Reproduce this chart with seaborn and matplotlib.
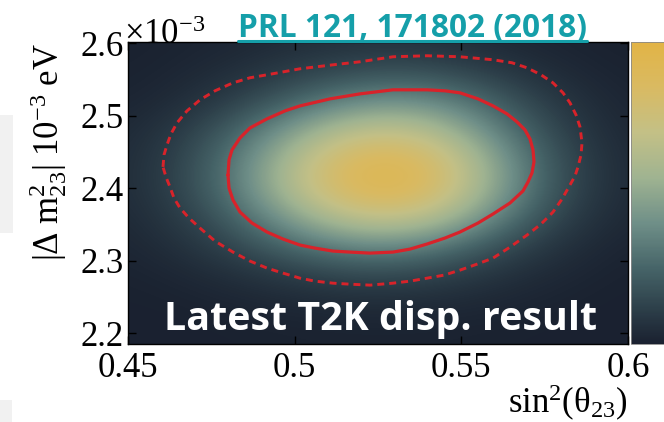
import numpy as np
import pandas as pd
import matplotlib
matplotlib.use("Agg")
import matplotlib.pyplot as plt
import seaborn as sns
from matplotlib.colors import LinearSegmentedColormap
from matplotlib.patches import Rectangle
from matplotlib.lines import Line2D

# ---------------- data ----------------
x_nodes = [0.450, 0.465, 0.480, 0.495, 0.510, 0.525, 0.540, 0.555, 0.570, 0.585, 0.600]
y_nodes = [2.20, 2.24, 2.28, 2.32, 2.36, 2.40, 2.44, 2.48, 2.52, 2.56, 2.60]
likelihood = [
    [0.000, 0.001, 0.003, 0.005, 0.007, 0.008, 0.007, 0.005, 0.003, 0.001, 0.000],
    [0.002, 0.005, 0.013, 0.023, 0.034, 0.040, 0.036, 0.025, 0.013, 0.005, 0.001],
    [0.008, 0.022, 0.050, 0.090, 0.130, 0.146, 0.128, 0.085, 0.043, 0.017, 0.004],
    [0.020, 0.058, 0.132, 0.238, 0.338, 0.383, 0.340, 0.228, 0.115, 0.044, 0.012],
    [0.034, 0.098, 0.227, 0.420, 0.617, 0.722, 0.662, 0.456, 0.236, 0.091, 0.027],
    [0.046, 0.132, 0.305, 0.564, 0.830, 0.971, 0.890, 0.613, 0.317, 0.123, 0.036],
    [0.045, 0.128, 0.298, 0.550, 0.808, 0.946, 0.867, 0.597, 0.309, 0.120, 0.035],
    [0.034, 0.096, 0.223, 0.412, 0.606, 0.709, 0.650, 0.448, 0.232, 0.090, 0.026],
    [0.015, 0.045, 0.110, 0.215, 0.335, 0.410, 0.395, 0.285, 0.150, 0.058, 0.016],
    [0.007, 0.020, 0.050, 0.097, 0.150, 0.185, 0.180, 0.130, 0.068, 0.026, 0.008],
    [0.003, 0.009, 0.020, 0.038, 0.055, 0.065, 0.059, 0.041, 0.021, 0.008, 0.002],
]

# 68% (solid) contour
solid_x = [0.4800, 0.4803, 0.4812, 0.4836, 0.4866, 0.4917, 0.4971, 0.5016, 0.5106,
           0.5196, 0.5295, 0.5397, 0.5451, 0.5496, 0.5550, 0.5595, 0.5637, 0.5667,
           0.5691, 0.5706, 0.5715, 0.5718, 0.5712, 0.5700, 0.5685, 0.5646, 0.5595,
           0.5550, 0.5496, 0.5451, 0.5397, 0.5346, 0.5295, 0.5226, 0.5166, 0.5115,
           0.5061, 0.5016, 0.4965, 0.4917, 0.4872, 0.4836, 0.4815, 0.4803]
solid_y = [2.4184, 2.4391, 2.4530, 2.4696, 2.4834, 2.4959, 2.5069, 2.5138, 2.5235,
           2.5304, 2.5360, 2.5360, 2.5346, 2.5318, 2.5235, 2.5138, 2.5028, 2.4917,
           2.4806, 2.4682, 2.4530, 2.4364, 2.4212, 2.4087, 2.3963, 2.3797, 2.3645,
           2.3520, 2.3396, 2.3313, 2.3230, 2.3160, 2.3119, 2.3105, 2.3119, 2.3133,
           2.3174, 2.3216, 2.3299, 2.3396, 2.3520, 2.3672, 2.3838, 2.4004]

# 90% (dashed) contour
dashed_x = [0.4605, 0.4608, 0.4617, 0.4629, 0.4647, 0.4677, 0.4716, 0.4761, 0.4815,
            0.4866, 0.4917, 0.5016, 0.5115, 0.5196, 0.5295, 0.5397, 0.5496, 0.5595,
            0.5652, 0.5697, 0.5739, 0.5775, 0.5805, 0.5826, 0.5844, 0.5856, 0.5862,
            0.5859, 0.5850, 0.5841, 0.5826, 0.5802, 0.5775, 0.5739, 0.5697, 0.5646,
            0.5595, 0.5547, 0.5496, 0.5448, 0.5397, 0.5346, 0.5295, 0.5226, 0.5166,
            0.5115, 0.5061, 0.5016, 0.4965, 0.4917, 0.4866, 0.4815, 0.4761, 0.4716,
            0.4683, 0.4656, 0.4638, 0.4626, 0.4614]
dashed_y = [2.4295, 2.4461, 2.4599, 2.4751, 2.4903, 2.5069, 2.5221, 2.5346, 2.5456,
            2.5526, 2.5567, 2.5650, 2.5705, 2.5747, 2.5816, 2.5830, 2.5816, 2.5775,
            2.5733, 2.5664, 2.5567, 2.5456, 2.5318, 2.5180, 2.5014, 2.4848, 2.4627,
            2.4461, 2.4295, 2.4170, 2.4046, 2.3852, 2.3672, 2.3506, 2.3354, 2.3188,
            2.3036, 2.2953, 2.2870, 2.2801, 2.2759, 2.2718, 2.2690, 2.2663, 2.2676,
            2.2690, 2.2718, 2.2759, 2.2829, 2.2898, 2.2995, 2.3119, 2.3271, 2.3451,
            2.3589, 2.3728, 2.3866, 2.4018, 2.4156]

x_ticks = [0.45, 0.50, 0.55, 0.60]
x_tick_labels = ["0.45", "0.5", "0.55", "0.6"]
y_ticks = [2.2, 2.3, 2.4, 2.5, 2.6]
y_tick_labels = ["2.2", "2.3", "2.4", "2.5", "2.6"]
cbar_ticks = [0.1, 0.2, 0.3, 0.4, 0.5, 0.6, 0.7, 0.8, 0.9, 1.0]

title_text = "PRL 121, 171802 (2018)"
overlay_text = "Latest T2K disp. result"
x_label = r"$\mathrm{sin^{2}(\theta_{23})}$"
y_label = r"$\mathrm{|\Delta\ m^{2}_{23}|\ 10^{-3}\ eV}$"
exp_label = r"$\mathrm{\times 10^{-3}}$"

# ---------------- style ----------------
sns.set_theme(style="ticks")
plt.rcParams["font.family"] = ["Liberation Serif", "DejaVu Serif"]
plt.rcParams["mathtext.fontset"] = "custom"
plt.rcParams["mathtext.rm"] = "Liberation Serif"
plt.rcParams["mathtext.it"] = "Liberation Serif:italic"
plt.rcParams["mathtext.bf"] = "Liberation Serif:bold"

cmap = LinearSegmentedColormap.from_list(
    "t2k",
    [(0.00, "#1a2130"), (0.10, "#2a3b46"), (0.25, "#466468"), (0.40, "#6f8f88"),
     (0.55, "#9fb391"), (0.70, "#c3c086"), (0.85, "#d9ba62"), (1.00, "#e2b446")])

W, H = 664, 422
fig = plt.figure(figsize=(W / 100, H / 100), dpi=100)
fig.patch.set_facecolor("white")

def fx(px):
    return px / W

def fy(py):
    return 1 - py / H

# faint slide artefacts at the left edge
fig.patches.append(Rectangle((0, fy(233)), fx(13), (233 - 115) / H,
                             transform=fig.transFigure, facecolor="#f1f1f1",
                             edgecolor="none", zorder=-5))
fig.patches.append(Rectangle((0, 0), fx(12), (422 - 400) / H,
                             transform=fig.transFigure, facecolor="#f1f1f1",
                             edgecolor="none", zorder=-5))

ax = fig.add_axes([fx(128), fy(344), 500 / W, 302 / H])
dxn = x_nodes[1] - x_nodes[0]
dyn = y_nodes[1] - y_nodes[0]
im = ax.imshow(np.array(likelihood), origin="lower",
               extent=[x_nodes[0] - dxn / 2, x_nodes[-1] + dxn / 2,
                       y_nodes[0] - dyn / 2, y_nodes[-1] + dyn / 2],
               aspect="auto", cmap=cmap, vmin=0, vmax=1.02,
               interpolation="bicubic")

solid = pd.DataFrame({"x": solid_x + solid_x[:1], "y": solid_y + solid_y[:1]})
dashed = pd.DataFrame({"x": dashed_x + dashed_x[:1], "y": dashed_y + dashed_y[:1]})
sns.lineplot(data=solid, x="x", y="y", sort=False, estimator=None, ax=ax,
             color="#d8232a", linewidth=2.3, solid_joinstyle="round")
sns.lineplot(data=dashed, x="x", y="y", sort=False, estimator=None, ax=ax,
             color="#d8232a", linewidth=2.1, linestyle=(0, (2.4, 1.7)))

ax.set_xlim(0.45, 0.60)
ax.set_ylim(2.185, 2.602)
ax.set_xticks(x_ticks, x_tick_labels)
ax.set_yticks(y_ticks, y_tick_labels)
ax.set_xlabel("")
ax.set_ylabel("")
ax.tick_params(direction="in", length=6, width=1, top=True, right=True,
               labelsize=25, color="black", labelcolor="black")
ax.tick_params(axis="x", pad=6)
ax.tick_params(axis="y", pad=3)
for s in ax.spines.values():
    s.set_linewidth(1.0)
    s.set_color("black")
    s.set_visible(True)

cax = fig.add_axes([fx(631), fy(344), (W - 631) / W, 302 / H])
cb = fig.colorbar(im, cax=cax, ticks=cbar_ticks)
cb.ax.tick_params(direction="in", length=5, width=0.8, right=True,
                  labelright=False, color="#222222")
cb.outline.set_linewidth(0.6)
cb.outline.set_edgecolor("#888888")

fig.text(fx(48), fy(43), y_label, rotation=90, ha="center", va="top",
         fontsize=25, color="black")
fig.text(fx(628), fy(403), x_label, ha="right", va="center",
         fontsize=25, color="black")
fig.text(fx(124), fy(44), exp_label, ha="left", va="baseline",
         fontsize=25, color="black")

t_title = fig.text(fx(412), fy(37), title_text, ha="center", va="baseline",
                   fontsize=20, fontweight="bold", color="#159fa9",
                   family=["Open Sans", "DejaVu Sans"])
t_over = fig.text(fx(381), fy(330), overlay_text, ha="center", va="baseline",
                  fontsize=20, fontweight="bold", color="white",
                  family=["Open Sans", "DejaVu Sans"])

fig.canvas.draw()
r = fig.canvas.get_renderer()
for t, target in ((t_title, 349), (t_over, 432)):
    bb = t.get_window_extent(r)
    t.set_fontsize(t.get_fontsize() * target / bb.width)
fig.canvas.draw()
bb = t_title.get_window_extent(r)
fig.lines.append(Line2D([bb.x0 / W, bb.x1 / W], [fy(41), fy(41)],
                        transform=fig.transFigure, color="#159fa9",
                        linewidth=2.2))

fig.savefig("out.png", dpi=100)
